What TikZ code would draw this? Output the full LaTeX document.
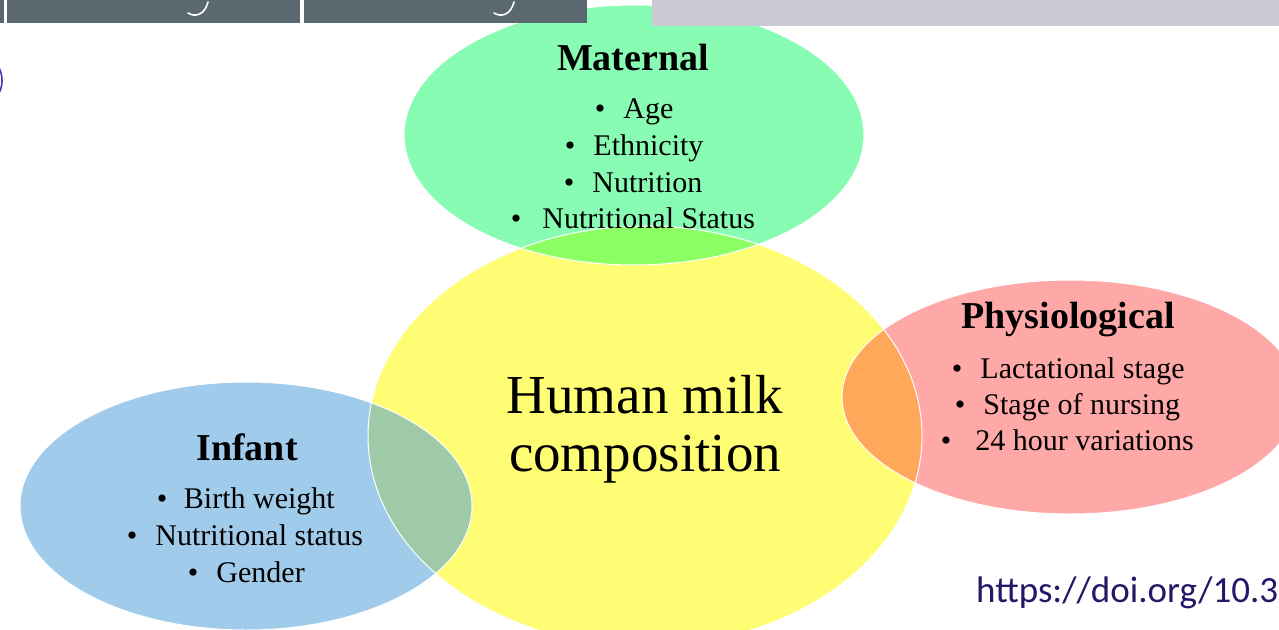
\documentclass[tikz,border=0pt]{standalone}
\usepackage{fontspec}
\setmainfont{Liberation Serif}
\newfontfamily\doifont{Carlito}
\definecolor{yelc}{RGB}{255,253,115}
\definecolor{grnc}{RGB}{136,252,178}
\definecolor{redc}{RGB}{255,168,168}
\definecolor{bluc}{RGB}{160,203,235}
\definecolor{limec}{RGB}{140,255,100}
\definecolor{orac}{RGB}{255,168,90}
\definecolor{sagec}{RGB}{158,202,168}
\definecolor{darkbar}{RGB}{90,104,112}
\definecolor{lightbar}{RGB}{203,202,213}
\definecolor{doic}{RGB}{35,25,105}
\definecolor{arcc}{RGB}{70,55,170}
\begin{document}
\begin{tikzpicture}[x=1pt,y=-1pt,
  head/.style={font=\fontsize{38}{44}\selectfont\bfseries, anchor=base, inner sep=0pt},
  item/.style={font=\fontsize{30}{36}\selectfont, anchor=base west, inner sep=0pt},
  big/.style={font=\fontsize{55}{60}\selectfont, anchor=base, inner sep=0pt},
  rim/.style={draw=white, line width=1pt}]
\useasboundingbox (0,0) rectangle (1279,629);
\fill[white] (0,0) rectangle (1279,629);
\begin{scope}
\clip (0,0) rectangle (1279,629);
% base ellipses
\fill[yelc] (645,436) ellipse [x radius=277pt, y radius=210pt];
\fill[grnc] (634,135) ellipse [x radius=230pt, y radius=130pt];
\fill[redc] (1070,397) ellipse [x radius=228pt, y radius=117pt];
\fill[bluc] (246,506) ellipse [x radius=226pt, y radius=124pt];
% overlaps
\begin{scope}
\clip (645,436) ellipse [x radius=277pt, y radius=210pt];
\fill[limec] (634,135) ellipse [x radius=230pt, y radius=130pt];
\fill[orac] (1070,397) ellipse [x radius=228pt, y radius=117pt];
\fill[sagec] (246,506) ellipse [x radius=226pt, y radius=124pt];
\end{scope}
% rims
\draw[rim] (645,436) ellipse [x radius=277pt, y radius=210pt];
\draw[rim] (634,135) ellipse [x radius=230pt, y radius=130pt];
\draw[rim] (1070,397) ellipse [x radius=228pt, y radius=117pt];
\draw[rim] (246,506) ellipse [x radius=226pt, y radius=124pt];
% top bars
\fill[darkbar] (0,0) rectangle (587,23);
\fill[white] (4,0) rectangle (6.5,23);
\fill[white] (300,0) rectangle (304,23);
\draw[white, line width=1.6pt, line cap=round] (208,2) .. controls (205,14) and (196,18) .. (188,13);
\draw[white, line width=1.6pt, line cap=round] (514,2) .. controls (511,14) and (502,18) .. (494,13);
\fill[lightbar] (652,0) rectangle (1279,26);
\draw[arcc, line width=1.6pt] (-1,68) .. controls (3,75) and (3,86) .. (-1,93);
% texts
\node[head] (mat) at (633,70) {Maternal};
\node[item] (m1) at (594.75,118) {•\hspace{0.6em}Age};
\node[item] (m2) at (564.75,155) {•\hspace{0.6em}Ethnicity};
\node[item] (m3) at (563.75,192) {•\hspace{0.6em}Nutrition};
\node[item] (m4) at (510.75,228) {•\hspace{0.7em}Nutritional Status};
\node[head] (phy) at (1068,328) {Physiological};
\node[item] (p1) at (951.75,378) {•\hspace{0.6em}Lactational stage};
\node[item] (p2) at (954.75,414) {•\hspace{0.6em}Stage of nursing};
\node[item] (p3) at (940.75,450) {•\hspace{0.8em}24 hour variations};
\node[head] (inf) at (247,460) {Infant};
\node[item] (i1) at (156.75,508) {•\hspace{0.55em}Birth weight};
\node[item] (i2) at (126.75,545) {•\hspace{0.6em}Nutritional status};
\node[item] (i3) at (187.75,582) {•\hspace{0.6em}Gender};
\node[big] (hm1) at (645,413) {Human milk};
\node[big] (hm2) at (645,471) {composition};
\node[anchor=base west, inner sep=0pt, text=doic, font=\doifont\fontsize{37}{40}\selectfont] (doi) at (976,602) {https://doi.org/10.3};
\end{scope}
\end{tikzpicture}
\end{document}
